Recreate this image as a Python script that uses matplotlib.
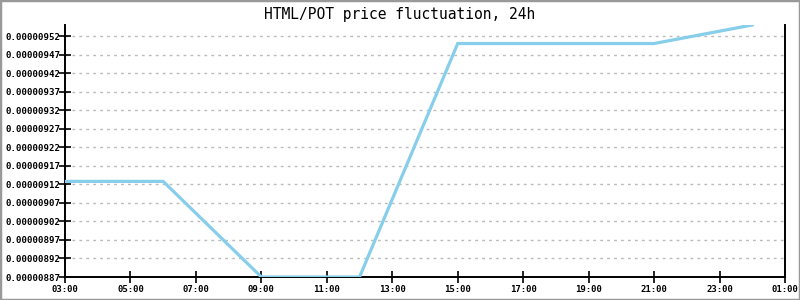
import matplotlib
matplotlib.use("Agg")
import matplotlib.pyplot as plt
from matplotlib.patches import Rectangle

# data (hours since midnight of day 1; 24 = 00:00 next day)
hours = [3, 6, 9, 12, 15, 18, 21, 24]
prices = [0.000009128, 0.000009128, 0.00000887, 0.00000887,
          0.00000950, 0.00000950, 0.00000950, 0.00000955]

y_ticks = [0.00000887 + i * 0.00000005 for i in range(14)]
x_ticks = list(range(3, 26, 2))
x_labels = ["%02d:00" % (h % 24) for h in x_ticks]

LINE = "#87ceeb"
GRID = "#bbbbbb"
FONT = "DejaVu Sans Mono"

fig = plt.figure(figsize=(8, 3), dpi=100)
ax = fig.add_axes([65 / 800, 23 / 300, 720 / 800, 252 / 300])

ax.plot(hours, prices, color=LINE, lw=2.3, solid_joinstyle="miter", zorder=3)

ax.set_xlim(3, 25)
ax.set_ylim(min(prices), max(prices))
ax.set_xticks(x_ticks)
ax.set_xticklabels(x_labels, fontfamily=FONT, fontsize=6.5, fontweight="bold")
ax.set_yticks(y_ticks)
ax.set_yticklabels(["%.8f" % v for v in y_ticks], fontfamily=FONT,
                   fontsize=6.6, fontweight="bold")
ax.tick_params(direction="inout", length=8, width=1.2, color="black")
ax.tick_params(axis="y", pad=-1)
ax.tick_params(axis="x", pad=2)

for v in y_ticks:
    ax.axhline(v, color=GRID, lw=1.0, linestyle=(0, (2, 3)), zorder=1)

ax.spines["top"].set_visible(False)
for s in ["left", "bottom", "right"]:
    ax.spines[s].set_linewidth(1.4)

fig.text(0.5, 1 - 14 / 300, "HTML/POT price fluctuation, 24h",
         ha="center", va="center", fontfamily=FONT, fontsize=10.5)

# grey frame
fig.patches.append(Rectangle((0, 0), 1, 1, transform=fig.transFigure,
                             fill=False, ec="#999999", lw=2.5))

fig.savefig("out.png", dpi=100)
